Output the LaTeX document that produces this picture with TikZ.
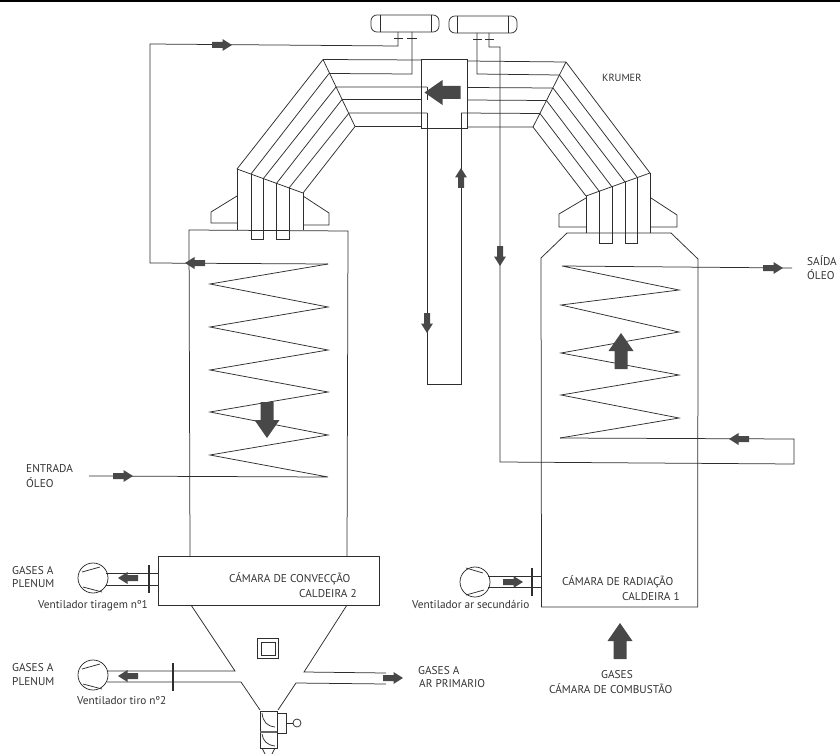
\documentclass[tikz,border=0pt]{standalone}
\usepackage{fontspec}
\setmainfont{PT Sans}
\definecolor{ln}{HTML}{2E2E2E}
\definecolor{af}{HTML}{484848}
\tikzset{
  x=1pt,y=-1pt,
  pipe/.style={draw=ln,line width=0.75pt,line join=miter},
  bar/.style={draw=ln,line width=2.6pt},
  lab/.style={inner sep=0pt,anchor=west,text=black!80,font=\fontsize{11.3}{13}\selectfont},
  smallarrow/.pic={\fill[af] (-10,-3) -- (0.5,-3) -- (0.5,-6) -- (10,0) -- (0.5,6) -- (0.5,3) -- (-10,3) -- cycle;},
  bigarrow/.pic={\fill[af] (-18,-6.5) -- (0,-6.5) -- (0,-12.5) -- (18,0) -- (0,12.5) -- (0,6.5) -- (-18,6.5) -- cycle;}
}
\begin{document}
\begin{tikzpicture}
\useasboundingbox (0,0) rectangle (840,754);
\fill[black] (0,0) rectangle (840,2.2);
% drums
\draw[pipe,rounded corners=6pt] (371,15) rectangle (439,32);
\draw[pipe] (380,15) -- (380,32) (431,15) -- (431,32);
\draw[pipe,rounded corners=6pt] (449,16) rectangle (517,33);
\draw[pipe] (457,16) -- (457,33) (508,16) -- (508,33);
% nozzles
\draw[pipe,line width=1pt] (394,39) -- (403,39) (407,39) -- (417,39) (473,40) -- (482,40) (485,40) -- (494,40);
\draw[pipe] (398,32) -- (398,46) -- (150,44) -- (150,263) -- (328,264);
\draw[pipe] (412,32) -- (412,74) -- (329,73.5);
\draw[pipe] (477,33) -- (477,74) -- (559.5,75);
\draw[pipe] (489,33) -- (489,47) -- (500,47) -- (500,462) -- (794,464) -- (794,439) -- (560,438);
% central box
\draw[pipe] (421,59) rectangle (467.5,128);
\draw[pipe] (427,87) -- (427,100) (427,113) -- (427,384) -- (461,384) -- (461,113);
% left horizontals
\draw[pipe] (323,59.5) -- (421,60) (336,87) -- (427,87) (342,99.5) -- (421,99.5)
  (349,113) -- (427,113) (355,126.5) -- (421,126.5);
% right horizontals
\draw[pipe] (467.5,61) -- (566,62) (467.5,87.5) -- (553,88) (467.5,100) -- (546.5,100.5)
  (461,113) -- (540,113.5) (467.5,127) -- (533,127);
% left krumer
\draw[pipe] (323,59.5) -- (355,126.5);
\draw[pipe] (323,59.5) -- (237,169) (329,73.5) -- (251,174) (336,87) -- (263,179)
  (342,99.5) -- (276,184) (349,113) -- (289,188) (355,126.5) -- (303,193);
\draw[pipe] (237,169) -- (303,193);
\draw[pipe] (237,169) -- (237,230) (303,193) -- (303,230);
\draw[pipe] (251,174) -- (251,239) -- (263,239) -- (263,179);
\draw[pipe] (276,184) -- (276,239) -- (289,239) -- (289,188);
\draw[pipe] (237,196) -- (211,212) -- (211,223) -- (237,223);
\draw[pipe] (303,196) -- (329,213) -- (329,225) -- (303,225);
% right krumer
\draw[pipe] (566,62) -- (533,127);
\draw[pipe] (566,62) -- (650,173) (559.5,75) -- (637,177) (553,88) -- (625,182)
  (546.5,100.5) -- (612,187) (540,113.5) -- (599,191) (533,127) -- (586,196);
\draw[pipe] (586,196) -- (650,173);
\draw[pipe] (586,196) -- (586,233) (650,173) -- (650,233);
\draw[pipe] (599,191) -- (599,243) -- (612,243) -- (612,187);
\draw[pipe] (625,182) -- (625,243) -- (637,243) -- (637,177);
\draw[pipe] (586,198) -- (559,214) -- (559,227) -- (586,227);
\draw[pipe] (651,198) -- (677,215) -- (677,227) -- (651,227);
% left boiler
\draw[pipe] (190,556) -- (189,230) -- (348,231) -- (347,556);
\draw[pipe] (158,556) rectangle (379,605);
\draw[pipe] (328,264) -- (210,284) -- (328,307) -- (210,327) -- (328,350) -- (210,370)
  -- (328,392) -- (210,412) -- (328,435) -- (210,455) -- (328,477) -- (89,476);
% right boiler
\draw[pipe] (541.5,607) -- (541,258) -- (567,233) -- (671,233) -- (698,259) -- (697.7,607) -- cycle;
\draw[pipe] (792,268) -- (562,266) -- (679,290) -- (561,305) -- (679,332) -- (561,353)
  -- (679,375) -- (561,395) -- (679,418) -- (560,438);
% hopper
\draw[pipe] (191,605) -- (235,671) -- (107,671);
\draw[pipe] (107,682) -- (241,682) -- (260,710);
\draw[pipe] (347,605) -- (304,672) -- (386,673);
\draw[pipe] (386,684) -- (296,683) -- (278,710);
\draw[pipe,line width=1.1pt] (257.5,638.5) rectangle (278.5,658.5);
\draw[pipe] (261.5,642) rectangle (275.5,655);
% bottom valve
\draw[pipe,line width=1pt] (260,711) rectangle (277,732);
\draw[pipe,line width=1pt] (260,732) rectangle (277,748);
\draw[pipe,line width=1.8pt,draw=black!60] (260,732) -- (277,732);
\draw[pipe] (277,713) -- (286,713) -- (286,733) -- (277,733);
\draw[pipe] (286,723) -- (293,723);
\draw[pipe] (297,723) circle (4);
\draw[pipe] (262,713) .. controls (263,722) and (267,726) .. (275,727);
\draw[pipe] (262,734) .. controls (263,741) and (267,745) .. (275,746);
\draw[pipe] (262,748) -- (265,754) (275,748) -- (272,754);
% fans
\draw[pipe] (93,578) circle (15);
\draw[pipe] (82,572) -- (100,567) (83,587) -- (102,592);
\draw[pipe] (106,573) -- (158,573) (106,585) -- (158,585);
\draw[bar] (149,565) -- (149,593);
\draw[pipe] (93,675) circle (15);
\draw[pipe] (82,669) -- (100,664) (83,684) -- (102,689);
\draw[bar] (173,663) -- (173,691);
\draw[pipe] (475,582) circle (15);
\draw[pipe] (466,568) -- (483,573) (466,595) -- (484,590);
\draw[pipe] (488,576) -- (541,576) (488,587) -- (541,587);
\draw[bar] (532,568) -- (532,596);
% arrows
\pic at (222,45) {smallarrow};
\pic[rotate=180] at (195,263) {smallarrow};
\pic at (123,476) {smallarrow};
\pic[rotate=-90] at (500,256) {smallarrow};
\pic[rotate=90] at (461,178) {smallarrow};
\pic[rotate=-90] at (427,323) {smallarrow};
\pic[rotate=180] at (739,439) {smallarrow};
\pic at (773,268) {smallarrow};
\pic[rotate=180] at (128,578) {smallarrow};
\pic[rotate=180] at (128,676) {smallarrow};
\pic at (513,582) {smallarrow};
\pic at (393,678) {smallarrow};
\pic[rotate=180] at (442.5,92.5) {bigarrow};
\pic[rotate=-90] at (267,420) {bigarrow};
\pic[rotate=90] at (621,351) {bigarrow};
\pic[rotate=90] at (620,641) {bigarrow};
% labels
\node[lab,font=\fontsize{10.4}{12}\selectfont] (krumer) at (602,78) {KRUMER};
\node[lab] (saida) at (807,261) {SAÍDA};
\node[lab] (oleoS) at (807,275) {ÓLEO};
\node[lab] (entrada) at (26,469) {ENTRADA};
\node[lab] (oleoE) at (26,483) {ÓLEO};
\node[lab] (gas1) at (12,571) {GASES A};
\node[lab] (plen1) at (12,584) {PLENUM};
\node[lab] (vent1) at (38,606) {Ventilador tiragem nº1};
\node[lab] (conv) at (229,579) {CÁMARA DE CONVECÇÃO};
\node[lab] (cald2) at (299,594) {CALDEIRA 2};
\node[lab] (gas2) at (12,668) {GASES A};
\node[lab] (plen2) at (12,682) {PLENUM};
\node[lab] (vent2) at (77,701) {Ventilador tiro nº2};
\node[lab] (gas3) at (418,671) {GASES A};
\node[lab] (arp) at (419,684) {AR PRIMARIO};
\node[lab] (rad) at (562,582) {CÁMARA DE RADIAÇÃO};
\node[lab] (cald1) at (622,597) {CALDEIRA 1};
\node[lab] (vent3) at (412,604) {Ventilador ar secundário};
\node[lab] (gas4) at (601,675) {GASES};
\node[lab] (comb) at (549,689) {CÁMARA DE COMBUSTÃO};
\end{tikzpicture}
\end{document}
